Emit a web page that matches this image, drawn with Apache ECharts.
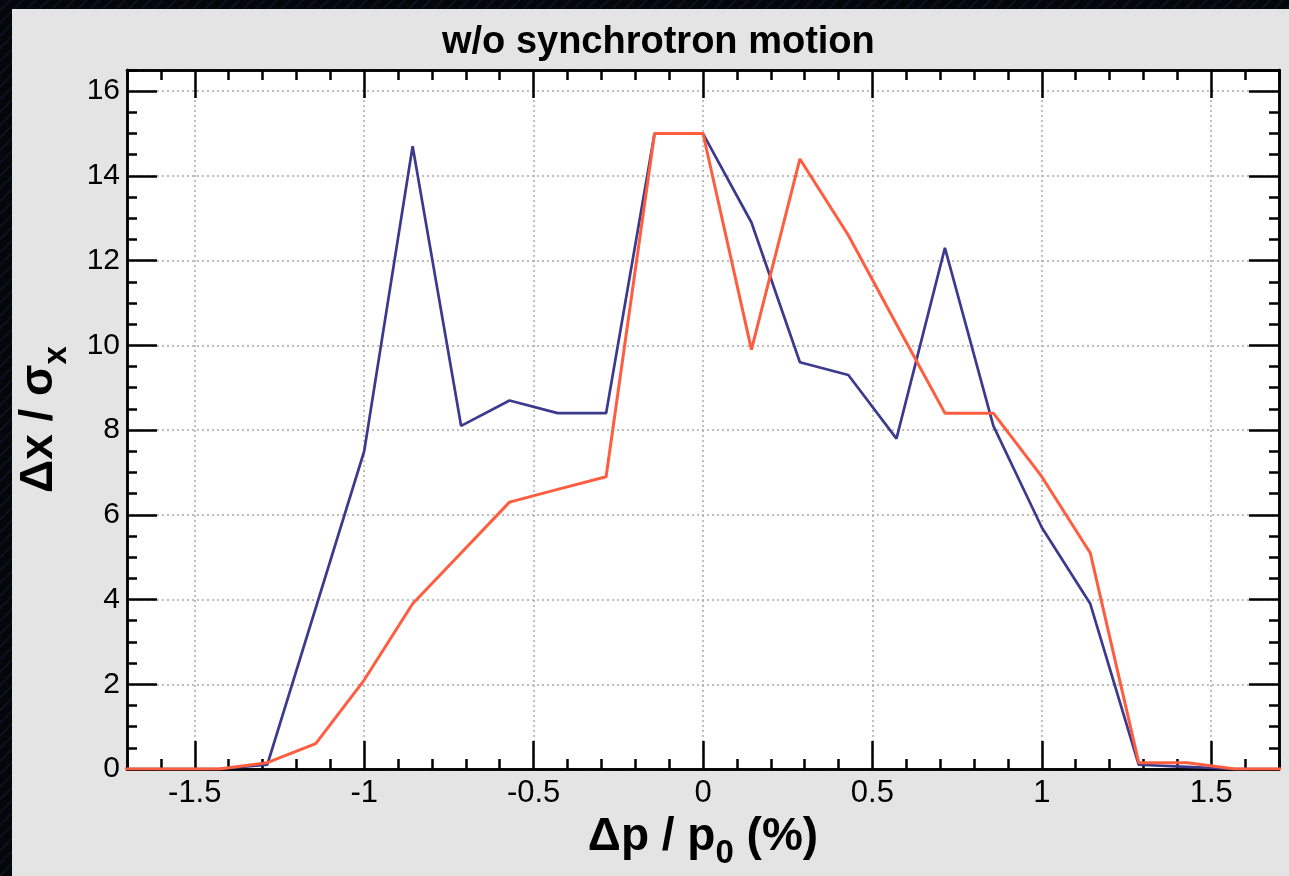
<!DOCTYPE html>
<html>
<head>
<meta charset="utf-8">
<script src="https://cdn.jsdelivr.net/npm/echarts@6/dist/echarts.min.js"></script>
<style>
html, body { margin: 0; padding: 0; width: 1289px; height: 876px; overflow: hidden;
  background: #03060a repeating-linear-gradient(135deg, #03060a 0px, #03060a 6px, #0d1726 7px, #03060a 9px); }
#chart { position: absolute; left: 12px; top: 9px; width: 1277px; height: 867px; background: #e4e4e4; }
</style>
</head>
<body>
<div id="chart"></div>
<script>
// ---- data ----
const xValues = [-1.714, -1.571, -1.429, -1.286, -1.143, -1.0, -0.857, -0.714, -0.571, -0.429, -0.286, -0.143,
                 0, 0.143, 0.286, 0.429, 0.571, 0.714, 0.857, 1.0, 1.143, 1.286, 1.429, 1.571, 1.714];
const blueValues = [0, 0, 0, 0.1, 3.8, 7.5, 14.7, 8.1, 8.7, 8.4, 8.4, 15.0,
                    15.0, 12.9, 9.6, 9.3, 7.8, 12.3, 8.1, 5.7, 3.9, 0.1, 0.05, 0, 0];
const redValues = [0, 0, 0, 0.15, 0.6, 2.1, 3.9, 5.1, 6.3, 6.6, 6.9, 15.0,
                   15.0, 9.9, 14.4, 12.6, 10.5, 8.4, 8.4, 6.9, 5.1, 0.15, 0.15, 0, 0];
// x tick positions (every 0.1) and labelled major ticks
const xTickValues = [-1.7, -1.6, -1.5, -1.4, -1.3, -1.2, -1.1, -1.0, -0.9, -0.8, -0.7, -0.6, -0.5, -0.4, -0.3, -0.2, -0.1,
                     0, 0.1, 0.2, 0.3, 0.4, 0.5, 0.6, 0.7, 0.8, 0.9, 1.0, 1.1, 1.2, 1.3, 1.4, 1.5, 1.6, 1.7];
const xMajorTicks = [-1.5, -1, -0.5, 0, 0.5, 1, 1.5];
const yMajorTicks = [0, 2, 4, 6, 8, 10, 12, 14, 16];

const titleText = 'w/o synchrotron motion';
const xName = '{b|Δp / p}{s|0}{b| (%)}';
const yName = '{b|Δx / σ}{s|x}';

// ---- helpers ----
const FONT = '"Liberation Sans", Arial, Helvetica, sans-serif';
const isMajorX = (i) => xMajorTicks.some(m => Math.abs(m - xTickValues[i]) < 1e-9);
const xCats = xTickValues.map(v => String(v));
const GRIDC = '#a9a9a9';

function catAxis(position, major, withLabels) {
  return {
    type: 'category', position, data: xCats, boundaryGap: false,
    axisLine: { show: true, onZero: false, lineStyle: { color: '#000', width: 2.5 } },
    axisTick: { show: true, inside: true, length: major ? 28 : 10,
      interval: major ? (i) => isMajorX(i) : 0,
      lineStyle: { color: '#000', width: 2.5 } },
    axisLabel: { show: withLabels, interval: (i) => isMajorX(i), margin: 9,
      color: '#000', fontSize: 31, fontFamily: FONT },
    splitLine: { show: major && withLabels, interval: (i) => isMajorX(i),
      lineStyle: { color: GRIDC, type: [2, 3], width: 1.5 } },
    z: 3
  };
}
function valAxis(position, major, withLabels) {
  return {
    type: 'value', position, min: 0, max: 16.5, interval: major ? 2 : 0.5,
    axisLine: { show: true, onZero: false, lineStyle: { color: '#000', width: 2.5 } },
    axisTick: { show: true, inside: true, length: major ? 30 : 10, lineStyle: { color: '#000', width: 2.5 } },
    axisLabel: { show: withLabels, margin: 7, color: '#000', fontSize: 30, fontFamily: FONT,
      showMaxLabel: false,
      formatter: (v) => yMajorTicks.indexOf(v) >= 0 ? String(v) : '' },
    splitLine: { show: major && withLabels, lineStyle: { color: GRIDC, type: [2, 3], width: 1.5 } },
    z: 3
  };
}

const chart = echarts.init(document.getElementById('chart'), null, { renderer: 'canvas' });

const nameRich = {
  b: { fontSize: 46, fontWeight: 'bold', fontFamily: FONT, color: '#000', verticalAlign: 'middle', lineHeight: 46 },
  s: { fontSize: 33, fontWeight: 'bold', fontFamily: FONT, color: '#000', verticalAlign: 'bottom', lineHeight: 68 }
};

const xMajorBottom = catAxis('bottom', true, true);
xMajorBottom.name = xName;
xMajorBottom.nameLocation = 'middle';
xMajorBottom.nameGap = 28;
xMajorBottom.nameTextStyle = { rich: nameRich };

const yMajorLeft = valAxis('left', true, true);
yMajorLeft.name = yName;
yMajorLeft.nameLocation = 'middle';
yMajorLeft.nameGap = 54;
yMajorLeft.nameTextStyle = { rich: nameRich };

chart.setOption({
  animation: false,
  backgroundColor: 'transparent',
  title: {
    text: titleText, left: 425, top: 10,
    textStyle: { fontSize: 38, fontWeight: 'bold', fontFamily: FONT, color: '#000' }
  },
  grid: { left: 115, right: 10, top: 61, bottom: 107, containLabel: false, outerBoundsMode: 'none',
          show: true, backgroundColor: '#ffffff', borderWidth: 0 },
  xAxis: [
    { type: 'value', min: -1.7, max: 1.7, show: false },
    xMajorBottom,
    catAxis('bottom', false, false),
    catAxis('top', true, false),
    catAxis('top', false, false)
  ],
  yAxis: [
    yMajorLeft,
    valAxis('left', false, false),
    valAxis('right', true, false),
    valAxis('right', false, false)
  ],
  series: [
    { type: 'line', xAxisIndex: 0, yAxisIndex: 0, symbol: 'none', clip: true,
      data: xValues.map((x, i) => [x, blueValues[i]]),
      lineStyle: { color: '#3b3a8c', width: 2.7 }, z: 4 },
    { type: 'line', xAxisIndex: 0, yAxisIndex: 0, symbol: 'none', clip: true,
      data: xValues.map((x, i) => [x, redValues[i]]),
      lineStyle: { color: '#ff5d3f', width: 3 }, z: 5 }
  ]
});
</script>
</body>
</html>
